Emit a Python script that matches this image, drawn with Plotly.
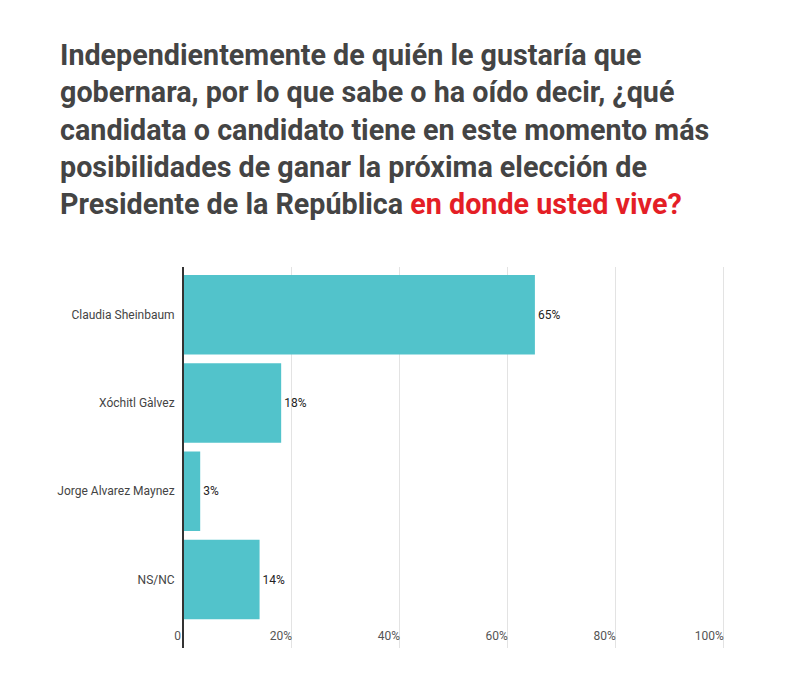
import plotly.graph_objects as go

categories = ["Claudia Sheinbaum", "Xóchitl Gàlvez", "Jorge Alvarez Maynez", "NS/NC"]
values = [65, 18, 3, 14]
tick_vals = [0, 20, 40, 60, 80, 100]
tick_text = ["0\u00a0", "20%", "40%", "60%", "80%", "100%"]

title_text = (
    "<b>Independientemente de quién le gustaría que<br>"
    "gobernara, por lo que sabe o ha oído decir, ¿qué<br>"
    "candidata o candidato tiene en este momento más<br>"
    "posibilidades de ganar la próxima elección de<br>"
    "Presidente de la República "
    "<span style='color:#e41e26'>en donde usted vive?</span></b>"
)

L, T, R, B = 176, 259, 80, 52
plot_w = 798 - L - R
plot_h = 692 - T - B

fig = go.Figure(
    go.Bar(
        x=values,
        y=categories,
        orientation="h",
        width=0.9,
        marker=dict(color="#52c3cb", line=dict(width=0)),
        text=[f"{v}%" for v in values],
        textposition="outside",
        textfont=dict(family="Roboto", size=12, color="#222222"),
        cliponaxis=False,
        hoverinfo="skip",
    )
)

fig.update_layout(
    width=798,
    height=692,
    paper_bgcolor="white",
    plot_bgcolor="white",
    margin=dict(l=L, r=R, t=T, b=B),
    showlegend=False,
    bargap=0.1,
    font=dict(family="Roboto", color="#444444"),
    annotations=[
        dict(
            text=title_text,
            xref="paper", yref="paper",
            x=(50 - L) / plot_w, y=1 + (T - 28) / plot_h,
            xanchor="left", yanchor="top",
            align="left",
            showarrow=False,
            font=dict(family="Roboto", size=28.7, color="#444444"),
        )
    ],
    xaxis=dict(
        range=[0, 100.4],
        tickvals=tick_vals,
        ticktext=tick_text,
        ticklabelposition="inside left",
        ticklabeloverflow="allow",
        tickfont=dict(family="Roboto", size=12, color="#555555"),
        showgrid=True,
        gridcolor="#e3e3e3",
        gridwidth=1,
        zeroline=False,
        showline=False,
        ticks="",
        fixedrange=True,
    ),
    yaxis=dict(
        range=[3.775, -0.54],
        showline=True,
        linecolor="#333333",
        linewidth=2,
        ticks="",
        ticklabelstandoff=5,
        tickfont=dict(family="Roboto", size=12, color="#444444"),
        showgrid=False,
        zeroline=False,
        fixedrange=True,
    ),
)

fig.write_html("out.html")
